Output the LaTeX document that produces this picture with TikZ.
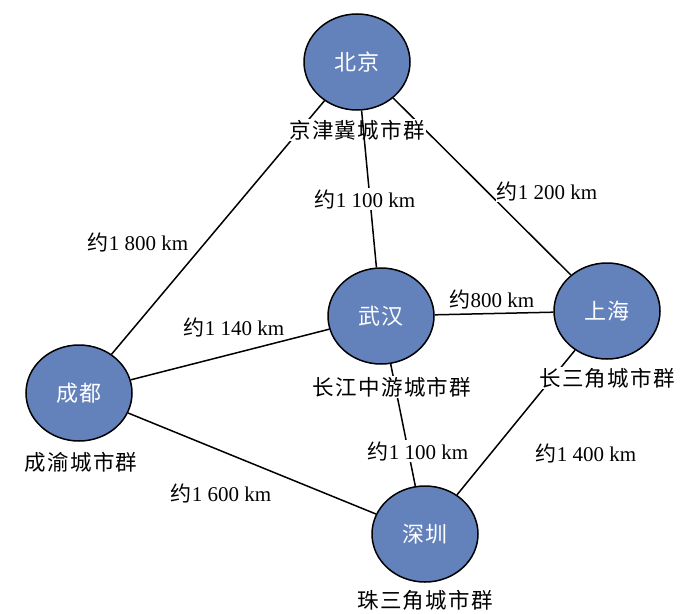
\documentclass[tikz,border=0pt]{standalone}
\usepackage{fontspec}
\setmainfont{Liberation Serif}
\newfontfamily\cjk{Noto Sans CJK SC}
\newfontfamily\cjkwide[LetterSpace=6]{Noto Sans CJK SC}
\usetikzlibrary{shapes.geometric, positioning}
\definecolor{cityblue}{RGB}{99,129,187}
\tikzset{
    x=1pt, y=-1pt,
    city/.style={ellipse, draw, line width=1.5pt, fill=cityblue, minimum width=106pt, minimum height=96pt, inner sep=0pt, text=white, font=\cjkwide\fontsize{22}{25}\selectfont},
    group/.style={fill=white, inner sep=1pt, font=\cjkwide\fontsize{21.5}{25}\selectfont},
    dist/.style={fill=white, inner sep=1pt, font=\fontsize{21}{24}\selectfont},
    road/.style={line width=1.5pt}
}

\begin{document}
\begin{tikzpicture}
        \useasboundingbox (0,0) rectangle (700,613);

        \node (bj) [city] at (357,62) {北京};
        \node (cd) [city] at (79,393) {成都};
        \node (wh) [city] at (381,316) {武汉};
        \node (sh) [city] at (607,311) {上海};
        \node (sz) [city] at (425,534) {深圳};

        \draw[road]
            (bj) edge (cd)
            (bj) edge (sh)
            (cd) edge (wh)
            (cd) edge (sz)
            (wh) edge (sh)
            (wh) edge (sz)
            (sh) edge (sz)
            ;

        \node (gbj) [group, below=8pt of bj] {京津冀城市群};
        \node (gcd) [group, below=9pt of cd, xshift=2pt] {成渝城市群};
        \node (gwh) [group, below=11pt of wh, xshift=11pt] {长江中游城市群};
        \node (gsh) [group, below=7pt of sh] {长三角城市群};
        \node (gsz) [group, below=6pt of sz] {珠三角城市群};

        \draw[road] (bj) -- (wh);

        \node (dbjcd) [dist] at (138,242) {{\cjk 约}1 800 km};
        \node (dbjwh) [dist] at (365,199) {{\cjk 约}1 100 km};
        \node (dbjsh) [dist] at (547,191) {{\cjk 约}1 200 km};
        \node (dcdwh) [dist] at (234,327) {{\cjk 约}1 140 km};
        \node (dwhsh) [dist] at (492,299) {{\cjk 约}800 km};
        \node (dwhsz) [dist] at (418,451) {{\cjk 约}1 100 km};
        \node (dcdsz) [dist] at (221,493) {{\cjk 约}1 600 km};
        \node (dshsz) [dist] at (586,453) {{\cjk 约}1 400 km};
    \end{tikzpicture}
\end{document}
